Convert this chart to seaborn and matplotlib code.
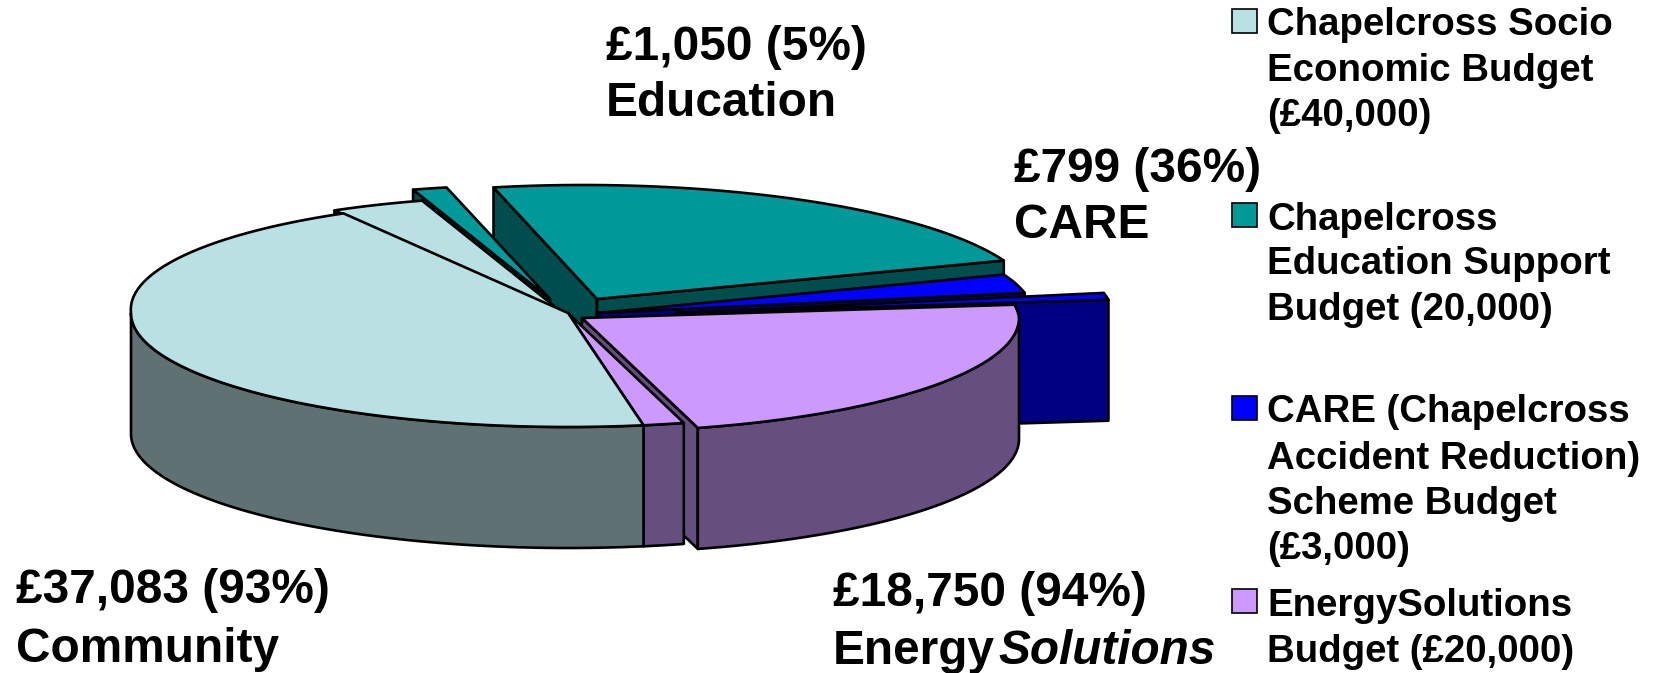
#!/usr/bin/env python3
"""
Chapelcross budgets as an exploded 3D style pie, drawn slice by slice
"""

import numpy as np
import matplotlib
matplotlib.use("Agg")
import matplotlib.pyplot as plt
from matplotlib.patches import Rectangle
import seaborn as sns

# Slices, clockwise, spent part and remainder of every budget
slice_names = ['Education rest', 'CARE rest', 'CARE', 'EnergySolutions',
               'EnergySolutions rest', 'Community', 'Community rest', 'Education']
slice_values = [18950, 2201, 799, 18750, 1250, 37083, 2917, 1050]

legend_labels = [
    ['Chapelcross Socio', 'Economic Budget', '(£40,000)'],
    ['Chapelcross', 'Education Support', 'Budget (20,000)'],
    ['CARE (Chapelcross', 'Accident Reduction)', 'Scheme Budget', '(£3,000)'],
    ['EnergySolutions', 'Budget (£20,000)'],
]

# Styles per slice name: top colour, wall colour, explode offset in px
TEAL, TEAL_D = '#009999', '#004D4D'
BLUE, BLUE_D = '#0000FF', '#000080'
PURPLE, PURPLE_D = '#CC99FF', '#664F7F'
PALE, PALE_D = '#B9E0E3', '#5F7173'
style = {
    'Education rest': (TEAL, TEAL_D, (29, -14)),
    'Education': (TEAL, TEAL_D, (-18, -14)),
    'Community rest': (PALE, PALE_D, (-9, -3)),
    'CARE rest': (BLUE, BLUE_D, (29, 0)),
    'CARE': (BLUE, BLUE_D, (108, 0)),
    'EnergySolutions': (PURPLE, PURPLE_D, (14, 5)),
    'EnergySolutions rest': (PURPLE, PURPLE_D, (0, 0)),
    'Community': (PALE, PALE_D, (0, 0)),
}
draw_order = ['Education rest', 'Education', 'Community rest', 'CARE rest', 'CARE',
              'EnergySolutions', 'EnergySolutions rest', 'Community']

# Pie geometry in pixels
CX, CY = 568, 313
RX, RY = 437, 114
DEPTH = 121
START = -11.9
LW = 1.9

sns.set_theme(style='white')
plt.rcParams['font.family'] = ['Liberation Sans', 'DejaVu Sans']

fig = plt.figure(figsize=(16.53, 6.73), dpi=100)
ax = fig.add_axes([0, 0, 1, 1])
ax.set_xlim(0, 1653)
ax.set_ylim(673, 0)
ax.axis('off')


def rim_point(cx, cy, angle):
    # Clockwise from the top. The upper half leans left a little, like the original
    t = np.radians(angle)
    up = RY * np.cos(t)
    return cx + RX * np.sin(t) - 0.12 * np.maximum(up, 0), cy - up


def poly(xs, ys, color):
    ax.fill(xs, ys, facecolor=color, edgecolor='black', linewidth=LW, joinstyle='round')


def draw_slice(start, end, top, wall, offset):
    cx, cy = CX + offset[0], CY + offset[1]
    # Radial walls that face the viewer
    for angle, shown in ((start, np.sin(np.radians(start)) < 0),
                         (end, np.sin(np.radians(end)) > 0)):
        if shown:
            x, y = rim_point(cx, cy, angle)
            poly([cx, x, x, cx], [cy, y, y + DEPTH, cy + DEPTH], wall)
    # Outer wall, only the front half of the pie shows it
    lo, hi = max(start, 90), min(end, 270)
    if lo < hi:
        angles = np.linspace(lo, hi, 80)
        x, y = rim_point(cx, cy, angles)
        poly(np.r_[x, x[::-1]], np.r_[y, y[::-1] + DEPTH], wall)
    # Top face
    angles = np.linspace(start, end, 80)
    x, y = rim_point(cx, cy, angles)
    poly(np.r_[cx, x], np.r_[cy, y], top)


sweeps = np.array(slice_values) / sum(slice_values) * 360
edges = START + np.r_[0, np.cumsum(sweeps)]
for name in draw_order:
    i = slice_names.index(name)
    top, wall, offset = style[name]
    draw_slice(edges[i], edges[i + 1], top, wall, offset)

# Data labels
big = dict(fontsize=34.4, fontweight='bold', color='black', va='baseline')
ax.text(606, 60, '£1,050 (5%)', **big)
ax.text(606, 116, 'Education', **big)
ax.text(1014, 182, '£799 (36%)', **big)
ax.text(1014, 238, 'CARE', **big)
ax.text(16, 603, '£37,083 (93%)', **big)
ax.text(16, 662, 'Community', **big)
ax.text(833, 606, '£18,750 (94%)', **big)
ax.text(833, 664, 'Energy', **big)
ax.text(998, 664, 'Solutions', fontstyle='italic', **big)

# Legend, spacing is uneven in the original so it is placed by hand
swatch_colors = [PALE, TEAL, BLUE, PURPLE]
swatch_tops = [9, 203, 396, 589]
line_baselines = [[35, 81, 126], [230, 274, 320], [422, 469, 514, 559], [616, 662]]
for lines, color, y0, bases in zip(legend_labels, swatch_colors, swatch_tops, line_baselines):
    ax.add_patch(Rectangle((1232, y0), 25, 24, facecolor=color, edgecolor='black', linewidth=1.2))
    for line, base in zip(lines, bases):
        ax.text(1267, base, line, fontsize=27.6, fontweight='bold', color='black', va='baseline')

fig.savefig('out.png', dpi=100, facecolor='white')
